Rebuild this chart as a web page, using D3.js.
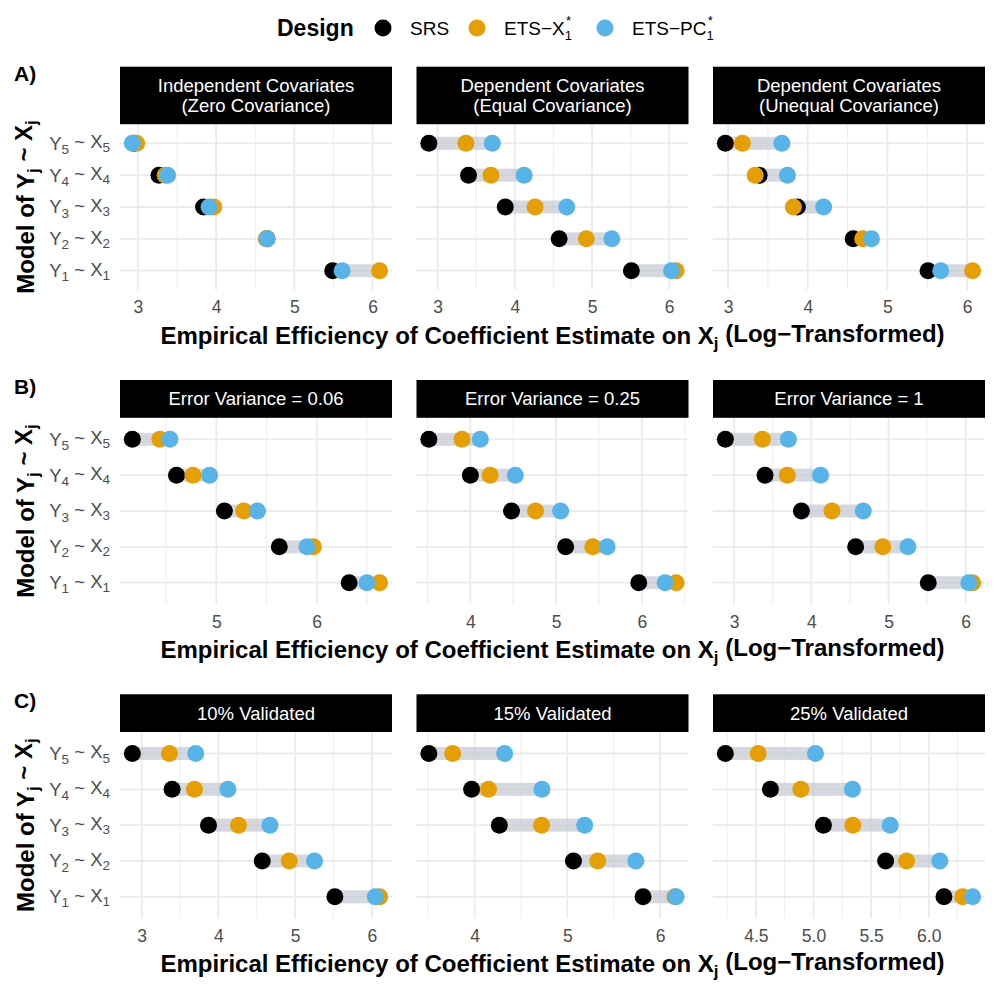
<!DOCTYPE html>
<html>
<head>
<meta charset="utf-8">
<script src="https://cdn.jsdelivr.net/npm/d3@7"></script>
<style>
  body { margin: 0; background: #fff; }
  text { font-family: "Liberation Sans", Arial, Helvetica, sans-serif; }
</style>
</head>
<body>
<div id="chart"></div>
<script>
var full_width = 997, full_height = 997;

// ---- data ----
var designs = ["SRS", "ETS\u2212X", "ETS\u2212PC"];
var design_colors = ["#000000", "#E69F00", "#56B4E9"];
var models = [5, 4, 3, 2, 1];   // Y_j ~ X_j, top to bottom

var strips_A = [["Independent Covariates", "(Zero Covariance)"],
                ["Dependent Covariates", "(Equal Covariance)"],
                ["Dependent Covariates", "(Unequal Covariance)"]];
var strips_B = ["Error Variance = 0.06", "Error Variance = 0.25", "Error Variance = 1"];
var strips_C = ["10% Validated", "15% Validated", "25% Validated"];

// values listed for Y1..Y5
var srs_A1 = [5.49, 4.65, 3.84, 3.27, 2.95];
var x1_A1  = [6.09, 4.64, 3.97, 3.35, 2.985];
var pc1_A1 = [5.61, 4.65, 3.91, 3.38, 2.93];

var srs_A2 = [5.51, 4.574, 3.876, 3.40, 2.886];
var x1_A2  = [6.09, 4.926, 4.262, 3.69, 3.366];
var pc1_A2 = [6.03, 5.257, 4.673, 4.12, 3.708];

var srs_A3 = [5.51, 4.57, 3.87, 3.39, 2.966];
var x1_A3  = [6.07, 4.69, 3.82, 3.34, 3.18];
var pc1_A3 = [5.67, 4.80, 4.20, 3.745, 3.676];

var srs_B1 = [6.323, 5.627, 5.08, 4.603, 4.163];
var x1_B1  = [6.627, 5.967, 5.273, 4.767, 4.437];
var pc1_B1 = [6.50, 5.903, 5.41, 4.933, 4.537];

var srs_B2 = [5.964, 5.111, 4.48, 4.0, 3.516];
var x1_B2  = [6.40, 5.427, 4.76, 4.231, 3.902];
var pc1_B2 = [6.271, 5.596, 5.053, 4.524, 4.116];

var srs_B3 = [5.515, 4.574, 3.871, 3.40, 2.886];
var x1_B3  = [6.09, 4.926, 4.267, 3.688, 3.366];
var pc1_B3 = [6.04, 5.252, 4.673, 4.119, 3.703];

var srs_C1 = [5.517, 4.57, 3.87, 3.396, 2.878];
var x1_C1  = [6.10, 4.922, 4.261, 3.687, 3.361];
var pc1_C1 = [6.043, 5.252, 4.67, 4.122, 3.704];

var srs_C2 = [5.817, 5.066, 4.266, 3.967, 3.506];
var x1_C2  = [6.16, 5.328, 4.722, 4.149, 3.763];
var pc1_C2 = [6.174, 5.739, 5.187, 4.726, 4.324];

var srs_C3 = [6.132, 5.626, 5.086, 4.626, 4.235];
var x1_C3  = [6.295, 5.808, 5.341, 4.89, 4.52];
var pc1_C3 = [6.381, 6.096, 5.666, 5.338, 5.017];

var ticks_A = [[3, 4, 5, 6], [3, 4, 5, 6], [3, 4, 5, 6]];
var ticks_B = [[5, 6], [4, 5, 6], [3, 4, 5, 6]];
var ticks_C = [[3, 4, 5, 6], [4, 5, 6], [4.5, 5.0, 5.5, 6.0]];

// ---- layout ----
var panel_x = [120, 416.5, 713];
var panel_w = 272;
var grey_text = "#4d4d4d";
var grid_col = "#ebebeb";
var dot_r = 8.5;

var svg = d3.select("#chart")
            .append("svg")
            .attr("width", full_width)
            .attr("height", full_height);

var rows = [
    {label: "A)", strips: strips_A, top: 66.7, strip_h: 57.5, plot_h: 165.6, ticks: ticks_A,
     vals: [[srs_A1, x1_A1, pc1_A1], [srs_A2, x1_A2, pc1_A2], [srs_A3, x1_A3, pc1_A3]]},
    {label: "B)", strips: strips_B, top: 380, strip_h: 37.8, plot_h: 186.4, ticks: ticks_B,
     vals: [[srs_B1, x1_B1, pc1_B1], [srs_B2, x1_B2, pc1_B2], [srs_B3, x1_B3, pc1_B3]]},
    {label: "C)", strips: strips_C, top: 694.3, strip_h: 37.7, plot_h: 186.3, ticks: ticks_C,
     vals: [[srs_C1, x1_C1, pc1_C1], [srs_C2, x1_C2, pc1_C2], [srs_C3, x1_C3, pc1_C3]]}
];


// text like  Y_j ~ X_j
function subLabel(txt, j, sub_size) {
    txt.append("tspan").text("Y");
    txt.append("tspan").attr("font-size", sub_size).attr("dy", "0.3em").text(j);
    txt.append("tspan").attr("dy", "-0.3em").text(" ~ X");
    txt.append("tspan").attr("font-size", sub_size).attr("dy", "0.3em").text(j);
}


function drawPanel(row, p) {

    var x0 = panel_x[p];
    var plot_top = row.top + row.strip_h;
    var plot_bottom = plot_top + row.plot_h;
    var vals = row.vals[p];
    var ticks = row.ticks[p];

    var all = [].concat(vals[0], vals[1], vals[2]);
    var ext = d3.extent(all);
    var pad = (ext[1] - ext[0]) * 0.05;

    var x = d3.scaleLinear()
              .domain([ext[0] - pad, ext[1] + pad])
              .range([x0, x0 + panel_w]);

    var y = d3.scalePoint()
              .domain(models)
              .range([plot_top, plot_bottom])
              .padding(0.6);

    var g = svg.append("g");

    // minor grid
    var step = ticks.length > 1 ? ticks[1] - ticks[0] : 1;
    var minors = ticks.map(t => t - step / 2);
    minors.push(ticks[ticks.length - 1] + step / 2);
    minors = minors.filter(m => m >= x.domain()[0] && m <= x.domain()[1]);

    g.selectAll(".minor").data(minors).enter().append("line")
     .attr("x1", d => x(d)).attr("x2", d => x(d))
     .attr("y1", plot_top).attr("y2", plot_bottom)
     .attr("stroke", grid_col).attr("stroke-width", 0.9);

    g.selectAll(".major").data(ticks).enter().append("line")
     .attr("x1", d => x(d)).attr("x2", d => x(d))
     .attr("y1", plot_top).attr("y2", plot_bottom)
     .attr("stroke", grid_col).attr("stroke-width", 1.8);

    g.selectAll(".hgrid").data(models).enter().append("line")
     .attr("x1", x0).attr("x2", x0 + panel_w)
     .attr("y1", d => y(d)).attr("y2", d => y(d))
     .attr("stroke", grid_col).attr("stroke-width", 1.8);

    // range bars
    var bars = models.map(m => {
        var v = [vals[0][m - 1], vals[1][m - 1], vals[2][m - 1]];
        return {m: m, lo: d3.min(v), hi: d3.max(v)};
    });
    g.selectAll(".bar").data(bars).enter().append("rect")
     .attr("x", d => x(d.lo))
     .attr("width", d => x(d.hi) - x(d.lo))
     .attr("y", d => y(d.m) - 6.5)
     .attr("height", 13)
     .attr("fill", "#c3c9d1")
     .attr("fill-opacity", 0.7);

    // dots: SRS, then ETS-X, then ETS-PC on top
    vals.forEach((series, k) => {
        g.selectAll(".dot" + k).data(models).enter().append("circle")
         .attr("cx", m => x(series[m - 1]))
         .attr("cy", m => y(m))
         .attr("r", dot_r)
         .attr("fill", design_colors[k]);
    });

    // strip
    g.append("rect")
     .attr("x", x0).attr("y", row.top)
     .attr("width", panel_w).attr("height", row.strip_h)
     .attr("fill", "#000");

    var lines = Array.isArray(row.strips[p]) ? row.strips[p] : [row.strips[p]];
    lines.forEach((ln, i) => {
        var cy = lines.length > 1 ? row.top + 18.5 + i * 20 : row.top + row.strip_h / 2;
        g.append("text")
         .attr("x", x0 + panel_w / 2).attr("y", cy).attr("dy", "0.35em")
         .attr("text-anchor", "middle")
         .attr("fill", "#fff").attr("font-size", 18.5)
         .text(ln);
    });

    // x axis
    var fmt = ticks.some(t => t % 1 !== 0) ? d3.format(".1f") : d3.format("d");
    var ax = g.append("g")
              .attr("transform", "translate(0," + plot_bottom + ")")
              .call(d3.axisBottom(x).tickValues(ticks).tickSize(0).tickPadding(11).tickFormat(fmt));
    ax.select(".domain").remove();
    ax.selectAll("text")
      .attr("font-size", 17.5)
      .attr("font-family", null)
      .attr("fill", grey_text);

    return {plot_top: plot_top, plot_bottom: plot_bottom, y: y};
}


rows.forEach(row => {

    var info;
    for (var p = 0; p < 3; p++) info = drawPanel(row, p);

    // y tick labels
    models.forEach(m => {
        var t = svg.append("text")
                   .attr("x", 110).attr("y", info.y(m)).attr("dy", "0.35em")
                   .attr("text-anchor", "end")
                   .attr("font-size", 18.5)
                   .attr("fill", grey_text);
        subLabel(t, m, 13.5);
    });

    // y title
    var mid = (info.plot_top + info.plot_bottom) / 2;
    var yt = svg.append("text")
                .attr("transform", "translate(34," + mid + ") rotate(-90)")
                .attr("text-anchor", "middle")
                .attr("font-size", 24)
                .attr("font-weight", "bold");
    yt.append("tspan").text("Model of Y");
    yt.append("tspan").attr("font-size", 17).attr("dy", "0.3em").text("j");
    yt.append("tspan").attr("dy", "-0.3em").text(" ~ X");
    yt.append("tspan").attr("font-size", 17).attr("dy", "0.3em").text("j");

    // x title
    var xt = svg.append("text")
                .attr("x", (panel_x[0] + panel_x[2] + panel_w) / 2)
                .attr("y", info.plot_bottom + 54)
                .attr("text-anchor", "middle")
                .attr("font-size", 24)
                .attr("font-weight", "bold");
    xt.append("tspan").text("Empirical Efficiency of Coefficient Estimate on X");
    xt.append("tspan").attr("font-size", 17).attr("dy", "0.3em").text("j");
    xt.append("tspan").attr("dy", "-0.3em").text(" (Log\u2212Transformed)");

    // panel tag
    svg.append("text")
       .attr("x", 14).attr("y", row.top + 14)
       .attr("font-size", 21)
       .attr("font-weight", "bold")
       .text(row.label);
});


// ---- legend ----
var legend = svg.append("g");
legend.append("text")
      .attr("x", 277).attr("y", 36)
      .attr("font-size", 23).attr("font-weight", "bold")
      .text("Design");

var legend_x = [383, 477, 605];
designs.forEach((d, i) => {
    legend.append("circle")
          .attr("cx", legend_x[i]).attr("cy", 28).attr("r", dot_r)
          .attr("fill", design_colors[i]);
    var t = legend.append("text")
                  .attr("x", legend_x[i] + 27).attr("y", 35)
                  .attr("font-size", 19);
    t.append("tspan").text(d);
    if (i > 0) {
        t.append("tspan").attr("font-size", 13).attr("dy", 5).text("1");
        t.append("tspan").attr("font-size", 13).attr("dx", -6).attr("dy", -15).text("*");
    }
});
</script>
</body>
</html>
